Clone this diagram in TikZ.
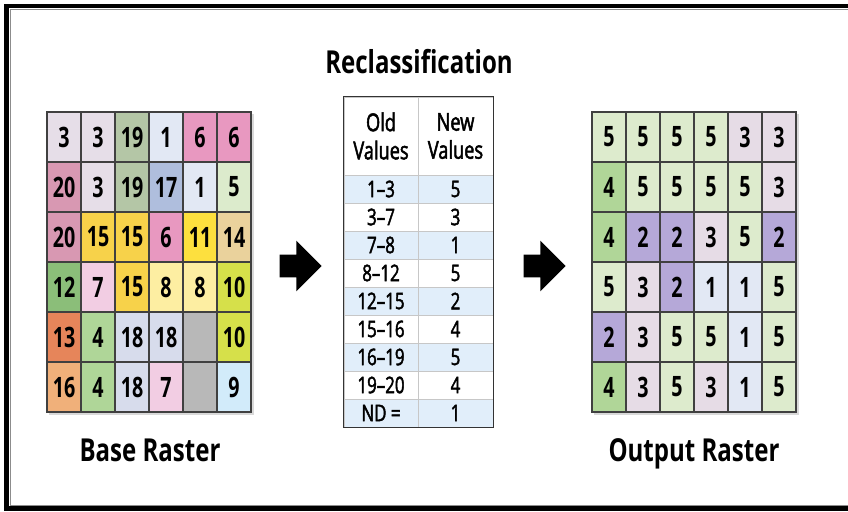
\documentclass[tikz,border=0pt]{standalone}
\usepackage{fontspec}
\setmainfont{Open Sans}[FakeStretch=0.76]
\newfontfamily\cellfont{Open Sans}[FakeStretch=0.7]
\newfontfamily\tabfont{Open Sans}[Ligatures=TeX, FakeStretch=0.74, FakeBold=2]
\usepackage{xcolor}
\usetikzlibrary{shapes.arrows,positioning}

% base raster colours
\definecolor{lav}{HTML}{E6DEE8}
\definecolor{sage}{HTML}{B4C6A6}
\definecolor{ice}{HTML}{E2E8F4}
\definecolor{rose}{HTML}{E898C0}
\definecolor{dusty}{HTML}{D898B2}
\definecolor{steel}{HTML}{AFBEDD}
\definecolor{mint}{HTML}{DCEBCC}
\definecolor{gold}{HTML}{F7D24A}
\definecolor{sun}{HTML}{FDE03E}
\definecolor{tan}{HTML}{EAD29C}
\definecolor{leaf}{HTML}{8BBE79}
\definecolor{blush}{HTML}{F2CDE3}
\definecolor{cream}{HTML}{FDEEA2}
\definecolor{lime}{HTML}{D6E04A}
\definecolor{coral}{HTML}{E6855A}
\definecolor{pea}{HTML}{AFD698}
\definecolor{mist}{HTML}{D7DCEC}
\definecolor{ash}{HTML}{B8B8B8}
\definecolor{sky}{HTML}{D2EBFA}
\definecolor{peach}{HTML}{F0B07A}
% output raster colours
\definecolor{o1}{HTML}{E2E8F4}
\definecolor{o2}{HTML}{B5A8D8}
\definecolor{o3}{HTML}{E6DCE6}
\definecolor{o4}{HTML}{B0D698}
\definecolor{o5}{HTML}{DDEBCD}
\definecolor{tabblue}{HTML}{E1EEFA}

\begin{document}
\begin{tikzpicture}[x=0.02cm,y=-0.02cm,
    cell/.style={draw=black!75, line width=0.6pt, inner sep=0pt,
        minimum width=0.68cm, minimum height=1cm,
        font=\cellfont\bfseries\fontsize{16}{16}\selectfont},
    tabcell/.style={draw=black!22, line width=0.4pt, inner sep=0pt,
        minimum height=0.56cm, font=\tabfont\fontsize{13}{13}\selectfont},
    caption/.style={font=\bfseries\fontsize{18}{20}\selectfont, anchor=base},
    blockarrow/.style={single arrow, fill=black, draw=none, inner xsep=0pt,
        inner ysep=0.22cm, minimum height=0.84cm, single arrow head extend=0.28cm}]
\useasboundingbox (0,0) rectangle (848,511);

% Frame (right side runs off the page)
\draw[line width=0.09cm] (6.5,6) rectangle (900,508.5);
\draw[black!45, line width=0.4pt] (10.5,9.5) rectangle (900,505);

% Titles
\node[caption] (title) at (419,73) {Reclassification};
\node[caption] (basecap) at (150,461) {Base Raster};
\node[caption] (outcap) at (694,461) {Output Raster};

% Base raster
\fill[black!15] (49,114) rectangle (254,415);
\foreach \row [count=\r] in {
    {3/lav,3/lav,19/sage,1/ice,6/rose,6/rose},
    {20/dusty,3/lav,19/sage,17/steel,1/ice,5/mint},
    {20/dusty,15/gold,15/gold,6/rose,11/sun,14/tan},
    {12/leaf,7/blush,15/gold,8/cream,8/cream,10/lime},
    {13/coral,4/pea,18/mist,18/mist,{}/ash,10/lime},
    {16/peach,4/pea,18/mist,7/blush,{}/ash,9/sky}} {
    \foreach \v/\c [count=\k] in \row {
        \node[cell, fill=\c] (b-\r-\k) at ({47+34*(\k-0.5)},{112+50*(\r-0.5)}) {\v};
    }
}

% Output raster
\fill[black!15] (594,114) rectangle (799,415);
\foreach \row [count=\r] in {
    {5,5,5,5,3,3},
    {4,5,5,5,5,3},
    {4,2,2,3,5,2},
    {5,3,2,1,1,5},
    {2,3,5,5,1,5},
    {4,3,5,3,1,5}} {
    \foreach \v [count=\k] in \row {
        \node[cell, fill=o\v] (o-\r-\k) at ({592+34*(\k-0.5)},{112+50*(\r-0.5)}) {\v};
    }
}

% Reclassification table
\node[tabcell, minimum width=1.48cm, minimum height=1.56cm, align=center,
    font=\tabfont\fontsize{14}{16}\selectfont] (t-hold) at (381,136) {Old\\Values};
\node[tabcell, minimum width=1.5cm, minimum height=1.56cm, align=center,
    font=\tabfont\fontsize{14}{16}\selectfont] (t-hnew) at (455.5,136) {New\\Values};
\foreach \old/\new/\c [count=\i] in {
    1--3/5/tabblue, 3--7/3/white, 7--8/1/tabblue, 8--12/5/white,
    12--15/2/tabblue, 15--16/4/white, 16--19/5/tabblue, 19--20/4/white,
    ND =/1/tabblue} {
    \node[tabcell, fill=\c, minimum width=1.48cm] (t-old-\i) at (381,{175+28*(\i-0.5)}) {\old};
    \node[tabcell, fill=\c, minimum width=1.5cm] (t-new-\i) at (455.5,{175+28*(\i-0.5)}) {\new};
}
\draw[black!80, line width=0.9pt] (t-hold.north west) rectangle (t-new-9.south east);

% Arrows
\node[blockarrow] (arrL) at (295,266) {};
\node[blockarrow] (arrR) at (539,266) {};

\end{tikzpicture}
\end{document}
